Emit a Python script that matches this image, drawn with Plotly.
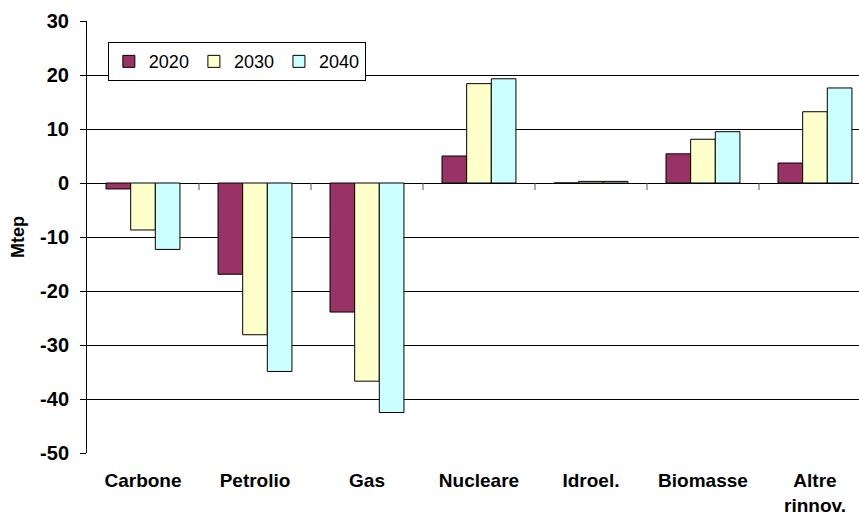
import plotly.graph_objects as go

categories = ["Carbone", "Petrolio", "Gas", "Nucleare", "Idroel.", "Biomasse", "Altre<br>rinnov."]
years = ["2020", "2030", "2040"]
v2020 = [-1.1, -16.9, -23.9, 5.0, 0.0, 5.4, 3.7]
v2030 = [-8.7, -28.1, -36.7, 18.4, 0.3, 8.1, 13.2]
v2040 = [-12.3, -34.9, -42.5, 19.3, 0.3, 9.5, 17.6]
colors = ["#993366", "#FFFFCC", "#CCFFFF"]
y_ticks = [30, 20, 10, 0, -10, -20, -30, -40, -50]
y_tick_labels = [str(v) for v in y_ticks]

FONT = "Liberation Sans, Arial, sans-serif"

fig = go.Figure()
for name, vals, col in zip(years, [v2020, v2030, v2040], colors):
    fig.add_trace(go.Bar(
        x=list(range(len(categories))), y=vals, name=name,
        marker=dict(color=col, line=dict(color="black", width=1)),
    ))

# small tick marks on the zero line between categories
for i in range(len(categories) - 1):
    fig.add_shape(type="line", xref="x", yref="y",
                  x0=i + 0.5, x1=i + 0.5, y0=0, y1=-1.3,
                  line=dict(color="#555555", width=1))

fig.update_layout(
    width=859, height=516,
    margin=dict(l=87, r=0, t=21, b=63, autoexpand=False),
    paper_bgcolor="white", plot_bgcolor="white",
    barmode="group", bargap=0.34, bargroupgap=0,
    font=dict(family=FONT, color="black"),
    showlegend=True,
    legend=dict(
        orientation="h", x=0.027, y=0.951, xanchor="left", yanchor="top",
        bgcolor="white", bordercolor="black", borderwidth=1,
        font=dict(size=18, family=FONT), traceorder="normal",
        itemwidth=30,
    ),
    xaxis=dict(
        range=[-0.5, 6.393], automargin=False,
        tickmode="array", tickvals=list(range(len(categories))), ticktext=categories,
        tickfont=dict(size=19, family=FONT, weight="bold"),
        showgrid=False, zeroline=False, showline=False, ticks="",
        ticklabelstandoff=14,
    ),
    yaxis=dict(
        range=[-50, 30], automargin=False,
        tickmode="array", tickvals=y_ticks, ticktext=y_tick_labels,
        tickfont=dict(size=20, family=FONT, weight="bold"),
        showgrid=True, gridcolor="black", gridwidth=1,
        zeroline=True, zerolinecolor="black", zerolinewidth=1,
        showline=True, linecolor="black", linewidth=1,
        ticks="outside", ticklen=6, tickcolor="black",
        ticklabelstandoff=7,
        title=dict(text="Mtep", font=dict(size=18, family=FONT, weight="bold"), standoff=10),
    ),
)

fig.write_html(
    "out.html",
    config={"displayModeBar": False},
    post_script="document.body.style.margin='0';document.body.style.overflow='hidden';",
)
